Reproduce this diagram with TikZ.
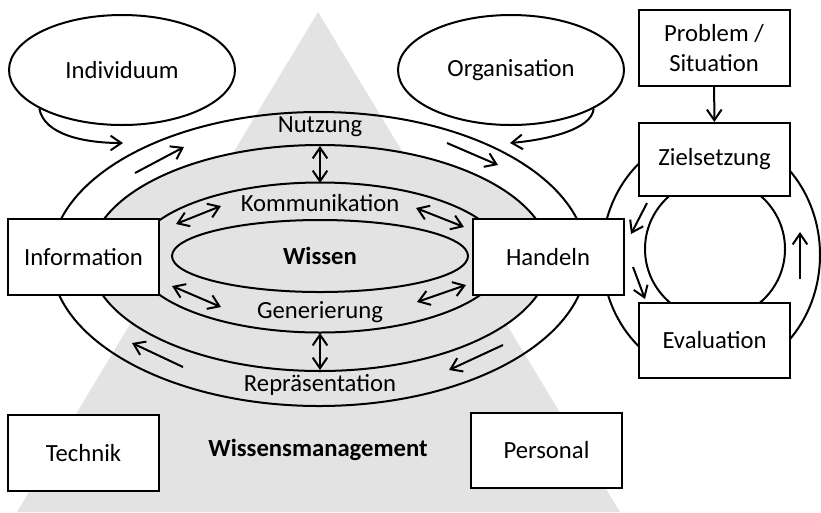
\documentclass[tikz,border=0pt]{standalone}
\usepackage{fontspec}
\setmainfont{Carlito}
\usetikzlibrary{arrows.meta,shapes.geometric}

\definecolor{wmgray}{RGB}{227,227,227}
\tikzset{every picture/.style={line width=1.5pt}}
\tikzset{
  txt/.style={inner sep=0.75pt, font=\fontsize{18.5}{22.5}\selectfont, align=center},
  box/.style={txt, draw, fill=white, minimum width=113.25pt, minimum height=57pt},
  oval/.style={txt, draw, ellipse, minimum width=169.5pt, minimum height=82.5pt},
  arr/.style={-{Straight Barb[length=8pt,width=11pt]}},
  darr/.style={{Straight Barb[length=8pt,width=11pt]}-{Straight Barb[length=8pt,width=11pt]}}
}

\begin{document}
\begin{tikzpicture}[x=0.75pt,y=0.75pt,yscale=-1,xscale=1]
\useasboundingbox (0,0) rectangle (821,512);

%Shape: Triangle
\fill [wmgray] (318,12) -- (17,512) -- (620,512) -- cycle;

%Shape: Ellipse (outer ring)
\draw (319,259) ellipse [x radius=268, y radius=147];
%Shape: Ellipse (filled ring)
\draw [fill=wmgray] (320,258) ellipse [x radius=230, y radius=113];
%Shape: Ellipse (inner ring)
\draw (320,257.5) ellipse [x radius=185, y radius=75];
%Shape: Ellipse
\node [oval, fill=wmgray, minimum width=222pt, minimum height=54pt] (wissen) at (320,256) {\textbf{Wissen}};

%Shape: Ellipse (cycle)
\draw (711,255) ellipse [x radius=109, y radius=122];
\draw (715,249) circle [radius=70];

%Shape: Ellipse
\node [oval] (indiv) at (122,70) {Individuum};
\node [oval] (org) at (511,70) {Organisation};

%Shape: Rectangle
\node [box] (info) at (83.5,257) {Information};
\node [box] (handeln) at (548,257) {Handeln};
\node [box] (technik) at (83.5,453) {Technik};
\node [box, minimum height=56.25pt] (personal) at (546.5,450.5) {Personal};
\node [box] (problem) at (714,48) {Problem /\\Situation};
\node [box, minimum height=54.75pt] (ziel) at (714.5,159.5) {Zielsetzung};
\node [box, minimum height=56.25pt] (eval) at (714.5,340.5) {Evaluation};

% Text Node
\node [txt] (nutzung) at (320,127) {Nutzung};
\node [txt] (komm) at (320,203) {Kommunikation};
\node [txt] (gen) at (320,312) {Generierung};
\node [txt] (repr) at (320,385) {Repräsentation};
\node [txt] (wm) at (318,450) {\textbf{Wissensmanagement}};

% Arrow ends
\coordinate (ia) at (123,143);
\coordinate (oa) at (510,143);
\coordinate (ul1) at (135,173); \coordinate (ul2) at (184,147);
\coordinate (ur1) at (447,143); \coordinate (ur2) at (498,165);
\coordinate (ll1) at (183,367); \coordinate (ll2) at (132,343);
\coordinate (lr1) at (503,345); \coordinate (lr2) at (449,370);
\coordinate (n1) at (320,146); \coordinate (n2) at (320,183);
\coordinate (r1) at (320,333); \coordinate (r2) at (320,370);
\coordinate (kl1) at (176,224); \coordinate (kl2) at (221,206);
\coordinate (kr1) at (416,208); \coordinate (kr2) at (464,227);
\coordinate (gl1) at (172,286); \coordinate (gl2) at (221,307);
\coordinate (gr1) at (417,302); \coordinate (gr2) at (466,285);
\coordinate (zh1) at (647,203); \coordinate (zh2) at (631,234);
\coordinate (he1) at (633,267); \coordinate (he2) at (645,299);
\coordinate (ez1) at (800,279); \coordinate (ez2) at (800,232);

%Curve Lines
\draw [arr] (indiv.205) .. controls (44,135) and (85,143) .. (ia);
\draw [arr] (org.335) .. controls (592,130) and (545,140) .. (oa);

%Straight Lines
\draw [arr] (ul1) -- (ul2);
\draw [arr] (ur1) -- (ur2);
\draw [arr] (ll1) -- (ll2);
\draw [arr] (lr1) -- (lr2);
\draw [darr] (n1) -- (n2);
\draw [darr] (r1) -- (r2);
\draw [darr] (kl1) -- (kl2);
\draw [darr] (kr1) -- (kr2);
\draw [darr] (gl1) -- (gl2);
\draw [darr] (gr1) -- (gr2);
\draw [arr] (problem) -- (ziel);
\draw [arr] (zh1) -- (zh2);
\draw [arr] (he1) -- (he2);
\draw [arr] (ez1) -- (ez2);

\end{tikzpicture}
\end{document}
